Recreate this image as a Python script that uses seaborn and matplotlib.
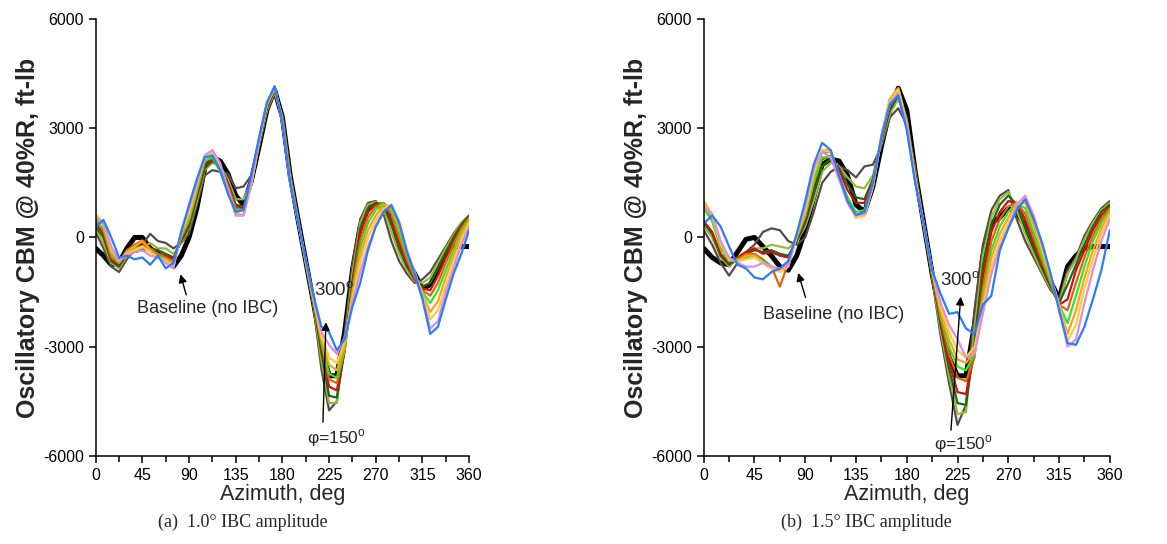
import matplotlib
matplotlib.use("Agg")
import matplotlib.pyplot as plt
import pandas as pd
import seaborn as sns

# Azimuth grid the curves were read on (deg)
AZIMUTH = [0, 7.5, 15, 22.5, 30, 37.5, 45, 52.5, 60, 67.5, 75, 82.5, 90, 97.5, 105, 112.5,
           120, 127.5, 135, 142.5, 150, 157.5, 165, 172.5, 180, 187.5, 195, 202.5, 210, 217.5,
           225, 232.5, 240, 247.5, 255, 262.5, 270, 277.5, 285, 292.5, 300, 307.5, 315, 322.5,
           330, 337.5, 345, 352.5, 360]

# IBC phase of each coloured curve (deg) and its colour
PHASES = [150, 167, 183, 200, 217, 233, 250, 267, 283, 300]
PHASE_COLORS = ["#594a47", "#9cb83a", "#146c14", "#d01010", "#e8620e",
                "#2ee82e", "#ffa01e", "#ffcc3a", "#e08ce0", "#2a7cff"]

# ---- panel (a): 1.0 deg IBC amplitude, ft-lb ----
A_BASE = [-300, -500, -750, -700, -300, 0, 0, -300, -450, -600, -800, -500, 0, 800, 1900, 2200,
          2100, 1750, 1150, 900, 1550, 2500, 3500, 4050, 3300, 1700, 500, -650, -1800, -3000,
          -3800, -3800, -2600, -900, 300, 800, 900, 850, 500, 0, -600, -1000, -1400, -1300,
          -900, -400, -250, -250, -250]
A_P150 = [150, -300, -800, -950, -600, -350, -200, 100, -100, -150, -300, -150, 100, 900, 1700, 1850,
          1800, 1750, 1350, 1400, 1700, 2500, 3450, 3950, 3350, 1750, 550, -700, -1900, -3600,
          -4750, -4500, -2650, -750, 500, 950, 1000, 650, -100, -650, -1000, -1250, -1150, -950,
          -600, -250, 100, 400, 600]
A_P167 = [250, -150, -700, -850, -500, -400, -300, -150, -300, -300, -450, -150, 250, 1000, 1850, 2050,
          1950, 1600, 1050, 1050, 1550, 2550, 3500, 4000, 3300, 1700, 520, -700, -1850, -3350,
          -4550, -4550, -2950, -1000, 400, 900, 980, 800, 150, -450, -900, -1200, -1250, -1100,
          -700, -300, 50, 400, 600]
A_P183 = [300, 0, -650, -800, -450, -400, -350, -300, -350, -450, -550, -100, 300, 1100, 1900, 2100,
          1950, 1500, 900, 850, 1450, 2550, 3550, 4050, 3300, 1650, 500, -700, -1800, -3150,
          -4350, -4400, -3100, -1200, 250, 800, 950, 900, 350, -300, -800, -1150, -1350, -1250,
          -850, -400, 0, 350, 600]
A_P200 = [400, 100, -600, -750, -400, -300, -150, -350, -450, -500, -600, -50, 400, 1200, 2000, 2150,
          1950, 1450, 850, 800, 1450, 2600, 3600, 4050, 3250, 1600, 480, -700, -1800, -3000,
          -4100, -4200, -3100, -1300, 100, 700, 900, 950, 500, -150, -700, -1150, -1400, -1450,
          -1050, -550, -100, 300, 550]
A_P217 = [500, 200, -550, -700, -350, -200, -80, -300, -450, -550, -650, 0, 450, 1250, 2100, 2200,
          1950, 1400, 800, 750, 1450, 2600, 3650, 4100, 3250, 1600, 470, -680, -1750, -2900,
          -3900, -4000, -3100, -1400, -100, 550, 850, 950, 650, 0, -600, -1100, -1450, -1600,
          -1250, -700, -200, 250, 550]
A_P233 = [450, 250, -450, -700, -400, -300, -250, -400, -500, -600, -700, 50, 500, 1300, 2100, 2200,
          1800, 1250, 750, 750, 1500, 2650, 3650, 4100, 3200, 1600, 460, -670, -1750, -2850,
          -3750, -3850, -3050, -1500, -300, 400, 750, 950, 750, 150, -500, -1050, -1500, -1800,
          -1450, -900, -350, 150, 500]
A_P250 = [600, 350, -400, -650, -400, -250, -100, -350, -550, -600, -750, 100, 600, 1400, 2200, 2300,
          1950, 1350, 650, 620, 1450, 2650, 3650, 4100, 3200, 1550, 450, -650, -1700, -2750,
          -3500, -3650, -2950, -1600, -500, 200, 600, 900, 850, 300, -400, -1000, -1550, -2050,
          -1750, -1100, -500, 50, 450]
A_P267 = [650, 400, -300, -650, -450, -350, -250, -400, -550, -650, -800, 150, 700, 1450, 2200, 2350,
          2000, 1300, 620, 600, 1450, 2650, 3650, 4150, 3200, 1550, 440, -630, -1700, -2700,
          -3300, -3450, -2850, -1700, -700, 0, 450, 800, 900, 400, -350, -950, -1600, -2250,
          -2000, -1350, -700, -100, 400]
A_P283 = [550, 400, -250, -650, -500, -400, -350, -500, -550, -700, -850, 200, 800, 1500, 2250, 2400,
          2050, 1300, 600, 600, 1500, 2650, 3700, 4150, 3150, 1500, 430, -620, -1650, -2600,
          -2950, -3200, -2750, -1800, -950, -250, 300, 700, 900, 450, -350, -950, -1650, -2500,
          -2300, -1500, -850, -200, 300]
A_P300 = [300, 480, 0, -550, -500, -600, -550, -750, -500, -850, -700, 150, 900, 1600, 2200, 2250,
          1850, 1200, 700, 750, 1700, 2750, 3700, 4150, 3150, 1500, 450, -600, -1600, -2450,
          -2600, -3100, -2800, -1900, -1250, -350, 300, 700, 880, 400, -400, -1000, -1700, -2650,
          -2450, -1700, -1000, -450, 200]

# ---- panel (b): 1.5 deg IBC amplitude, ft-lb ----
B_BASE = [-300, -550, -700, -750, -400, -50, 0, -250, -500, -800, -900, -500, 200, 1100, 2000, 2150,
          2100, 1700, 900, 700, 1400, 2500, 3500, 4100, 3500, 1800, 400, -1000, -2200, -3300,
          -3800, -3800, -2400, -500, 400, 550, 800, 700, 300, -300, -800, -1200, -1700, -800,
          -500, -300, -250, -250, -250]
B_P150 = [200, -200, -700, -1050, -700, -400, -200, 150, 250, 200, -100, -200, 0, 700, 1500, 1800,
          1950, 1850, 1650, 1950, 2000, 2500, 3300, 3550, 3100, 1900, 350, -1100, -2700, -4000,
          -5150, -4600, -2000, -200, 750, 1150, 1300, 500, -100, -550, -1000, -1450, -1700, -900,
          -550, 50, 450, 800, 1000]
B_P167 = [300, 0, -550, -800, -550, -400, -300, -300, -200, -250, -300, -100, 300, 1000, 1800, 2050,
          1950, 1650, 1400, 1350, 1700, 2600, 3400, 3800, 3200, 1800, 320, -1050, -2550, -3800,
          -4850, -4800, -2500, -500, 550, 1050, 1250, 750, 100, -450, -950, -1400, -1800, -1000,
          -600, -50, 400, 750, 950]
B_P183 = [400, 100, -500, -750, -600, -450, -350, -400, -350, -450, -500, -100, 400, 1200, 1950, 2150,
          1900, 1450, 1100, 1050, 1600, 2650, 3500, 3900, 3250, 1750, 330, -1000, -2400, -3600,
          -4550, -4600, -2900, -800, 350, 900, 1150, 900, 300, -300, -850, -1350, -1800, -1300,
          -750, -200, 300, 700, 900]
B_P200 = [450, 150, -450, -700, -550, -400, -300, -450, -400, -500, -550, -50, 500, 1400, 2150, 2250,
          1850, 1300, 950, 950, 1550, 2700, 3600, 4000, 3250, 1700, 350, -1000, -2300, -3400,
          -4250, -4300, -3200, -1100, 150, 700, 1000, 950, 500, -150, -750, -1300, -1850, -1700,
          -900, -350, 200, 600, 850]
B_P217 = [950, 500, -250, -650, -600, -450, -450, -600, -800, -1350, -700, 0, 600, 1600, 2350, 2350,
          1700, 1050, 550, 650, 1400, 2700, 3700, 4050, 3200, 1650, 350, -950, -2200, -3200,
          -3850, -3950, -3300, -1400, -100, 500, 850, 950, 650, 0, -650, -1250, -1850, -2000,
          -1250, -550, 50, 500, 800]
B_P233 = [800, 450, -300, -650, -600, -550, -500, -650, -800, -900, -650, 0, 600, 1500, 2200, 2200,
          1700, 1100, 700, 750, 1500, 2800, 3800, 4100, 3200, 1650, 360, -950, -2100, -3000,
          -3550, -3650, -3200, -1600, -350, 300, 700, 950, 800, 150, -550, -1200, -1850, -2350,
          -1600, -800, -100, 400, 750]
B_P250 = [1000, 600, -200, -600, -650, -500, -500, -700, -850, -900, -700, 50, 700, 1700, 2400, 2400,
          1700, 1000, 550, 600, 1400, 2750, 3800, 4100, 3150, 1600, 370, -900, -2000, -2800,
          -3350, -3450, -3100, -1800, -550, 100, 550, 950, 950, 350, -400, -1100, -1850, -2650,
          -2000, -1100, -350, 250, 700]
B_P267 = [900, 600, -150, -600, -650, -600, -550, -700, -850, -950, -800, 50, 750, 1750, 2400, 2350,
          1650, 950, 550, 600, 1400, 2750, 3750, 4050, 3100, 1600, 380, -900, -1900, -2600,
          -3100, -3300, -3000, -1950, -800, -100, 400, 900, 1050, 500, -300, -1050, -1850, -2850,
          -2400, -1400, -600, 100, 600]
B_P283 = [850, 650, -100, -550, -700, -800, -800, -700, -800, -850, -800, 100, 850, 1900, 2350, 2200,
          1600, 950, 600, 650, 1450, 2750, 3700, 3950, 3050, 1550, 390, -900, -1800, -2400,
          -2800, -3300, -3200, -2100, -1000, -250, 250, 900, 1150, 600, -200, -1000, -1900, -3000,
          -2800, -1800, -900, -100, 500]
B_P300 = [380, 600, 300, -250, -750, -850, -1100, -1150, -950, -850, -650, 100, 1000, 2000, 2600, 2400,
          1700, 1000, 620, 700, 1500, 2750, 3650, 3900, 2950, 1500, 400, -900, -1550, -2100,
          -2050, -2500, -2650, -1850, -1600, -350, 250, 750, 1050, 500, -150, -1000, -2000, -2900,
          -2950, -2450, -1700, -900, 200]

PANEL_A = [A_P150, A_P167, A_P183, A_P200, A_P217, A_P233, A_P250, A_P267, A_P283, A_P300]
PANEL_B = [B_P150, B_P167, B_P183, B_P200, B_P217, B_P233, B_P250, B_P267, B_P283, B_P300]


def long_table(baseline, curves):
    """Stack baseline + IBC curves into one long DataFrame for seaborn."""
    frames = [pd.DataFrame({"azimuth": AZIMUTH, "cbm": baseline, "case": "baseline"})]
    for phase, values in zip(PHASES, curves):
        frames.append(pd.DataFrame({"azimuth": AZIMUTH, "cbm": values, "case": f"phi{phase}"}))
    return pd.concat(frames, ignore_index=True)


def draw_panel(ax, baseline, curves, notes):
    df = long_table(baseline, curves)
    # thick black baseline underneath the IBC sweep
    sns.lineplot(data=df[df["case"] == "baseline"], x="azimuth", y="cbm", color="black",
                 lw=3.6, ax=ax, estimator=None, sort=False, zorder=1)
    palette = {f"phi{p}": c for p, c in zip(PHASES, PHASE_COLORS)}
    sns.lineplot(data=df[df["case"] != "baseline"], x="azimuth", y="cbm", hue="case",
                 palette=palette, lw=1.6, ax=ax, estimator=None, sort=False, legend=False,
                 zorder=2)
    for line in ax.get_lines():
        line.set_solid_joinstyle("round")
        line.set_solid_capstyle("round")

    ax.set_xlim(0, 360)
    ax.set_ylim(-6000, 6000)
    ax.set_xticks(range(0, 361, 45))
    ax.set_xticks([22.5 + 45 * i for i in range(8)], minor=True)
    ax.set_yticks(range(-6000, 6001, 3000))
    ax.tick_params(axis="both", which="both", direction="out", width=1.1, labelsize=11.5,
                   colors="black")
    ax.tick_params(axis="both", which="major", length=5)
    ax.tick_params(axis="x", which="minor", length=4)
    for side in ("top", "right"):
        ax.spines[side].set_visible(False)
    for side in ("left", "bottom"):
        ax.spines[side].set_linewidth(1.1)
        ax.spines[side].set_color("black")
    ax.set_xlabel("Azimuth, deg", fontsize=15.5, labelpad=1)
    ax.set_ylabel("Oscillatory CBM @ 40%R, ft-lb", fontsize=18, fontweight="bold", labelpad=2)

    arrow = dict(arrowstyle="-|>", color="black", lw=1.0, mutation_scale=12)
    ax.annotate("", xy=notes["base_tip"], xytext=notes["base_tail"], arrowprops=arrow, zorder=5)
    ax.text(*notes["base_text"], "Baseline (no IBC)", fontsize=13, ha="center", va="center")
    ax.annotate("", xy=notes["phi_tip"], xytext=notes["phi_tail"], arrowprops=arrow, zorder=5)
    ax.text(*notes["hi_text"], "300$^\\mathregular{o}$", fontsize=13.5, ha="center", va="center")
    ax.text(*notes["lo_text"], "\u03c6=150$^\\mathregular{o}$", fontsize=12.5, ha="center",
            va="center")


sns.set_theme(style="ticks")
plt.rcParams["font.family"] = ["Liberation Sans", "DejaVu Sans"]
plt.rcParams["axes.unicode_minus"] = False

fig = plt.figure(figsize=(11.67, 5.44), dpi=100)
ax_a = fig.add_axes([0.082, 0.162, 0.320, 0.803])
ax_b = fig.add_axes([0.603, 0.162, 0.348, 0.803])

draw_panel(ax_a, A_BASE, PANEL_A, {
    "base_tip": (81, -940), "base_tail": (88, -1650), "base_text": (108, -1950),
    "phi_tip": (222, -2250), "phi_tail": (219, -5150),
    "hi_text": (230, -1450), "lo_text": (232, -5500),
})
draw_panel(ax_b, B_BASE, PANEL_B, {
    "base_tip": (83, -900), "base_tail": (91, -1720), "base_text": (115, -2130),
    "phi_tip": (228, -1550), "phi_tail": (219, -5370),
    "hi_text": (227, -1180), "lo_text": (230, -5680),
})

fig.text(0.208, 0.040, "(a)  1.0\u00b0 IBC amplitude", family=["Liberation Serif"],
         fontsize=13, ha="center", va="center")
fig.text(0.742, 0.040, "(b)  1.5\u00b0 IBC amplitude", family=["Liberation Serif"],
         fontsize=13, ha="center", va="center")

fig.savefig("out.png", dpi=100)
